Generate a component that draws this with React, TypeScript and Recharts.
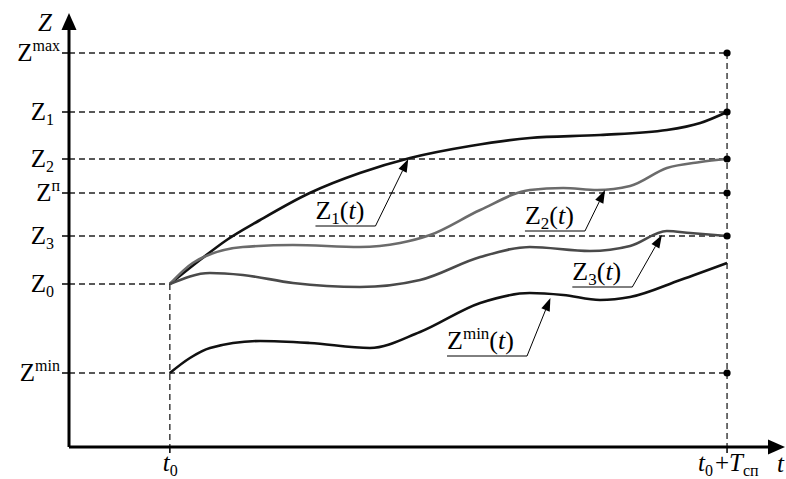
import React from 'react';
import { ComposedChart, Line, XAxis, YAxis, ReferenceLine, ReferenceDot } from 'recharts';

// Levels on the Z axis (top to bottom)
const levelValues = [39.4, 33.5, 28.8, 25.4, 21.1, 16.3, 7.4];
const levelLabels: { sub?: string; sup?: string }[] = [
  { sup: 'max' },
  { sub: '1' },
  { sub: '2' },
  { sup: 'п' },
  { sub: '3' },
  { sub: '0' },
  { sup: 'min' },
];
// Z0 stops at t0, the other levels run to t0 + Tсп and carry a dot there
const levelEndsAtT0 = [false, false, false, false, false, true, false];

const T0 = 0;
const T_END = 10;
const X_MIN = -1.81;
const X_MAX = 11.04;
const Y_MAX = 43.4;

// Curves
const z1T = [0, 0.54, 1.02, 1.62, 2.51, 3.41, 4.31, 5.39, 6.46, 7.72, 8.92, 9.52, 10];
const z1Values = [16.3, 18.7, 20.7, 22.7, 25.4, 27.4, 28.9, 30.1, 30.9, 31.2, 31.7, 32.4, 33.5];

const z2T = [0, 0.41, 1.31, 2.21, 3.41, 4.13, 4.67, 5.57, 6.46, 7.06, 7.67, 8.26, 8.92, 9.52, 10];
const z2Values = [16.3, 18.4, 20.0, 20.2, 20.0, 20.4, 21.2, 23.7, 25.7, 25.9, 25.7, 26.1, 27.9, 28.5, 28.8];

const z3T = [0, 0.72, 1.31, 2.21, 3.41, 4.49, 5.57, 6.46, 7.54, 8.26, 8.92, 9.34, 10];
const z3Values = [16.3, 17.4, 17.2, 16.4, 16.0, 16.7, 19.0, 20.0, 19.6, 20.1, 21.6, 21.4, 21.1];

const zMinT = [0, 0.36, 0.72, 1.62, 2.51, 3.59, 4.49, 5.57, 6.46, 7.06, 7.72, 8.26, 9.16, 10];
const zMinValues = [7.4, 8.9, 9.9, 10.6, 10.4, 9.9, 11.5, 14.4, 15.4, 15.2, 14.7, 15.0, 16.7, 18.4];

// Curve labels: underline end point and arrow tip
const curveLabels: { sub?: string; sup?: string }[] = [{ sub: '1' }, { sub: '2' }, { sub: '3' }, { sup: 'min' }];
const labelAnchors = [
  { x: 3.69, y: 22.1 },
  { x: 7.45, y: 21.6 },
  { x: 8.3, y: 16.0 },
  { x: 6.41, y: 9.1 },
];
const labelTips = [
  { x: 4.28, y: 28.8 },
  { x: 7.81, y: 25.7 },
  { x: 8.83, y: 21.2 },
  { x: 6.83, y: 14.9 },
];

const FONT = "'Liberation Serif', 'Times New Roman', Times, 'DejaVu Serif', serif";

const toData = (ts: number[], vs: number[]) => ts.map((t, i) => ({ t, z: vs[i] }));

const arrowHead = (x1: number, y1: number, x2: number, y2: number, len: number, half: number) => {
  const dx = x2 - x1;
  const dy = y2 - y1;
  const d = Math.hypot(dx, dy) || 1;
  const ux = dx / d;
  const uy = dy / d;
  const bx = x2 - ux * len;
  const by = y2 - uy * len;
  return {
    base: { x: bx, y: by },
    points: `${x2},${y2} ${bx - uy * half},${by + ux * half} ${bx + uy * half},${by - ux * half}`,
  };
};

const AxisArrow = (props: any) => {
  const { x1, y1, x2, y2, title, titleDx, titleDy } = props;
  const head = arrowHead(x1, y1, x2, y2, 17, 7.5);
  return (
    <g>
      <line x1={x1} y1={y1} x2={head.base.x} y2={head.base.y} stroke="#000" strokeWidth={3} />
      <polygon points={head.points} fill="#000" />
      <text x={x2 + titleDx} y={y2 + titleDy} fontFamily={FONT} fontSize={25} fontStyle="italic">
        {title}
      </text>
    </g>
  );
};

const Leader = (props: any) => {
  const { x1, y1, x2, y2, label, width } = props;
  const head = arrowHead(x1, y1, x2, y2, 13, 4.5);
  const sup = !!label.sup;
  return (
    <g>
      <line x1={x1 - width} y1={y1} x2={x1} y2={y1} stroke="#000" strokeWidth={1} />
      <line x1={x1} y1={y1} x2={head.base.x} y2={head.base.y} stroke="#000" strokeWidth={1} />
      <polygon points={head.points} fill="#000" />
      <text x={x1 - width} y={y1 - 7} fontFamily={FONT} fontSize={26} fill="#000">
        Z
        <tspan dy={sup ? -10 : 5} fontSize={17}>
          {sup ? label.sup : label.sub}
        </tspan>
        <tspan dy={sup ? 10 : -5}>(</tspan>
        <tspan fontStyle="italic">t</tspan>
        <tspan>)</tspan>
      </text>
    </g>
  );
};

const YTick = (props: any) => {
  const { x, y, payload } = props;
  const i = levelValues.indexOf(payload.value);
  const lab = levelLabels[i];
  if (!lab) return null;
  const sup = !!lab.sup;
  return (
    <text x={x - (sup ? 0 : 6)} y={y + 8} textAnchor="end" fontFamily={FONT} fontSize={25} fill="#000">
      Z
      <tspan dy={sup ? -10 : 5} fontSize={16}>
        {sup ? lab.sup : lab.sub}
      </tspan>
    </text>
  );
};

const XTick = (props: any) => {
  const { x, y, payload } = props;
  if (payload.value === T0) {
    return (
      <text x={x - 7} y={y + 16} fontFamily={FONT} fontSize={25} fill="#000">
        <tspan fontStyle="italic">t</tspan>
        <tspan dy={5} fontSize={16}>0</tspan>
      </text>
    );
  }
  return (
    <text x={x - 29} y={y + 16} fontFamily={FONT} fontSize={25} fill="#000">
      <tspan fontStyle="italic">t</tspan>
      <tspan dy={5} fontSize={16}>0</tspan>
      <tspan dy={-5} dx={2}>+</tspan>
      <tspan fontStyle="italic">T</tspan>
      <tspan dy={5} fontSize={16}>сп</tspan>
    </text>
  );
};

const dashed = { stroke: '#222', strokeWidth: 1.3, strokeDasharray: '6 4' };
const curveWidth = 2.6;

const App: React.FC = () => {
  return (
    <div style={{ position: 'absolute', left: 0, top: 0, background: '#fff', fontFamily: FONT }}>
      <ComposedChart width={786} height={479} margin={{ top: 13, right: 1, bottom: 0, left: 0 }}>
        <XAxis
          type="number"
          dataKey="t"
          domain={[X_MIN, X_MAX]}
          ticks={[T0, T_END]}
          tick={<XTick />}
          tickSize={6}
          tickLine={{ stroke: '#000', strokeWidth: 1.5 }}
          axisLine={false}
          height={32}
          allowDataOverflow
        />
        <YAxis
          type="number"
          dataKey="z"
          domain={[0, Y_MAX]}
          ticks={levelValues}
          tick={<YTick />}
          tickSize={7}
          tickLine={{ stroke: '#000', strokeWidth: 1.5 }}
          axisLine={false}
          width={69}
          allowDataOverflow
        />

        {/* dashed guide lines */}
        {levelValues.map((v, i) => (
          <ReferenceLine
            key={`lvl-${i}`}
            segment={[
              { x: X_MIN, y: v },
              { x: levelEndsAtT0[i] ? T0 : T_END, y: v },
            ]}
            {...dashed}
            ifOverflow="visible"
          />
        ))}
        <ReferenceLine segment={[{ x: T0, y: levelValues[5] }, { x: T0, y: 0 }]} {...dashed} ifOverflow="visible" />
        <ReferenceLine segment={[{ x: T_END, y: levelValues[0] }, { x: T_END, y: 0 }]} {...dashed} ifOverflow="visible" />

        {/* axes with arrows */}
        <ReferenceLine
          segment={[{ x: X_MIN, y: 0 }, { x: X_MIN, y: Y_MAX }]}
          ifOverflow="visible"
          shape={(p: any) => <AxisArrow {...p} title="Z" titleDx={-31} titleDy={18} />}
        />
        <ReferenceLine
          segment={[{ x: X_MIN, y: 0 }, { x: X_MAX, y: 0 }]}
          ifOverflow="visible"
          shape={(p: any) => <AxisArrow {...p} title="t" titleDx={-8} titleDy={25} />}
        />

        <Line data={toData(z1T, z1Values)} dataKey="z" type="monotone" stroke="#111" strokeWidth={curveWidth} dot={false} isAnimationActive={false} />
        <Line data={toData(z2T, z2Values)} dataKey="z" type="monotone" stroke="#6b6b6b" strokeWidth={curveWidth} dot={false} isAnimationActive={false} />
        <Line data={toData(z3T, z3Values)} dataKey="z" type="monotone" stroke="#4a4a4a" strokeWidth={curveWidth} dot={false} isAnimationActive={false} />
        <Line data={toData(zMinT, zMinValues)} dataKey="z" type="monotone" stroke="#111" strokeWidth={curveWidth} dot={false} isAnimationActive={false} />

        {/* curve labels with leaders */}
        {curveLabels.map((lab, i) => (
          <ReferenceLine
            key={`lab-${i}`}
            segment={[labelAnchors[i], labelTips[i]]}
            ifOverflow="visible"
            shape={(p: any) => <Leader {...p} label={lab} width={lab.sup ? 80 : 60} />}
          />
        ))}

        {levelValues.map((v, i) =>
          levelEndsAtT0[i] ? null : (
            <ReferenceDot key={`dot-${i}`} x={T_END} y={v} r={3.6} fill="#000" stroke="none" ifOverflow="visible" />
          ),
        )}
      </ComposedChart>
    </div>
  );
};

export default App;
